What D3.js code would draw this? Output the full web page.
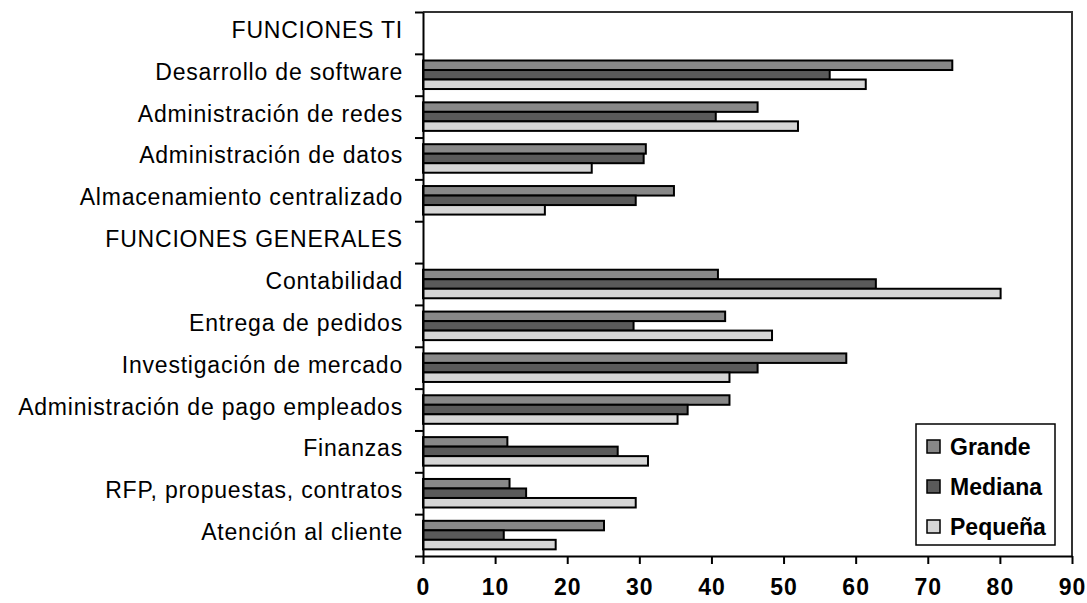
<!DOCTYPE html>
<html>
<head>
<meta charset="utf-8">
<script src="https://cdn.jsdelivr.net/npm/d3@7"></script>
<style>
  body { margin: 0; background: #fff; }
  text { font-family: Arial, "Liberation Sans", sans-serif; }
</style>
</head>
<body>
<div id="main"></div>
<script>
// categories from top to bottom (section headings have no bars)
var categories = [
  "FUNCIONES TI",
  "Desarrollo de software",
  "Administración de redes",
  "Administración de datos",
  "Almacenamiento centralizado",
  "FUNCIONES GENERALES",
  "Contabilidad",
  "Entrega de pedidos",
  "Investigación de mercado",
  "Administración de pago empleados",
  "Finanzas",
  "RFP, propuestas, contratos",
  "Atención al cliente"
];
var seriesNames = ["Grande", "Mediana", "Pequeña"];
var grande  = [null, 73.4, 46.4, 30.9, 34.8, null, 40.9, 41.9, 58.7, 42.5, 11.7, 12.0, 25.1];
var mediana = [null, 56.4, 40.6, 30.6, 29.5, null, 62.8, 29.2, 46.4, 36.7, 27.0, 14.3, 11.2];
var pequena = [null, 61.4, 52.0, 23.4, 16.9, null, 80.1, 48.4, 42.5, 35.3, 31.2, 29.5, 18.4];
var xTicks = [0, 10, 20, 30, 40, 50, 60, 70, 80, 90];
var colors = ["#888888", "#5a5a5a", "#d6d6d6"];

var margin = { top: 12, right: 15, bottom: 47, left: 423 },
  width = 1087 - margin.left - margin.right,
  height = 603 - margin.top - margin.bottom;

var svg = d3.select("#main")
  .append("svg")
  .attr("width", 1087)
  .attr("height", 603)
  .append("g")
  .attr("transform", "translate(" + margin.left + "," + margin.top + ")");

var x = d3.scaleLinear().domain([0, 90]).range([0, width]);
var y = d3.scaleBand().domain(categories).range([0, height]);
var ySub = d3.scaleBand().domain(seriesNames).range([0, y.bandwidth()]).paddingOuter(0.7);

// plot frame (top and right)
svg.append("path")
  .attr("d", "M0,0H" + width + "V" + height)
  .attr("fill", "none")
  .attr("stroke", "#333")
  .attr("stroke-width", 2);

// bars
var rows = categories.map(function (c, i) {
  return { cat: c, vals: [grande[i], mediana[i], pequena[i]] };
});
var groups = svg.selectAll(".row")
  .data(rows)
  .enter()
  .append("g")
  .attr("transform", function (d) { return "translate(0," + y(d.cat) + ")"; });

groups.selectAll("rect")
  .data(function (d) {
    return d.vals.map(function (v, j) { return { s: seriesNames[j], v: v, j: j }; })
      .filter(function (e) { return e.v != null; });
  })
  .enter()
  .append("rect")
  .attr("x", x(0))
  .attr("y", function (d) { return ySub(d.s); })
  .attr("width", function (d) { return x(d.v) - x(0); })
  .attr("height", ySub.bandwidth())
  .attr("fill", function (d) { return colors[d.j]; })
  .attr("stroke", "#000")
  .attr("stroke-width", 2);

// y axis: ticks between categories
var yIdx = d3.scaleLinear().domain([0, categories.length]).range([0, height]);
var yAxis = svg.append("g")
  .call(d3.axisLeft(yIdx).tickValues(d3.range(categories.length + 1)).tickFormat("").tickSize(8).tickSizeOuter(0));
yAxis.select(".domain").attr("stroke", "#000").attr("stroke-width", 2);
yAxis.selectAll(".tick line").attr("stroke", "#000").attr("stroke-width", 2);

// category labels
svg.selectAll(".cat")
  .data(categories)
  .enter()
  .append("text")
  .attr("x", -20)
  .attr("y", function (d) { return y(d) + y.bandwidth() / 2 + 5; })
  .attr("text-anchor", "end")
  .style("font-size", "23px")
  .style("letter-spacing", "0.8px")
  .attr("fill", "#000")
  .text(function (d) { return d; });

// x axis
var xAxis = svg.append("g")
  .attr("transform", "translate(0," + height + ")")
  .call(d3.axisBottom(x).tickValues(xTicks).tickSize(8).tickSizeOuter(0).tickPadding(15));
xAxis.select(".domain").attr("stroke", "#000").attr("stroke-width", 2);
xAxis.selectAll(".tick line").attr("stroke", "#000").attr("stroke-width", 2);
xAxis.selectAll(".tick text")
  .style("font-size", "23px")
  .style("font-weight", "bold")
  .style("letter-spacing", "1px")
  .style("font-family", "Arial, 'Liberation Sans', sans-serif")
  .attr("fill", "#000");

// legend
var legend = svg.append("g").attr("transform", "translate(" + (916 - margin.left) + "," + (424 - margin.top) + ")");
legend.append("rect")
  .attr("width", 139)
  .attr("height", 121)
  .attr("fill", "#fff")
  .attr("stroke", "#000")
  .attr("stroke-width", 1.5);
seriesNames.forEach(function (s, i) {
  legend.append("rect")
    .attr("x", 11)
    .attr("y", 16 + i * 40)
    .attr("width", 13)
    .attr("height", 13)
    .attr("fill", colors[i])
    .attr("stroke", "#000")
    .attr("stroke-width", 1.5);
  legend.append("text")
    .attr("x", 34)
    .attr("y", 31 + i * 40)
    .style("font-size", "23px")
    .style("font-weight", "bold")
    .attr("fill", "#000")
    .text(s);
});
</script>
</body>
</html>
